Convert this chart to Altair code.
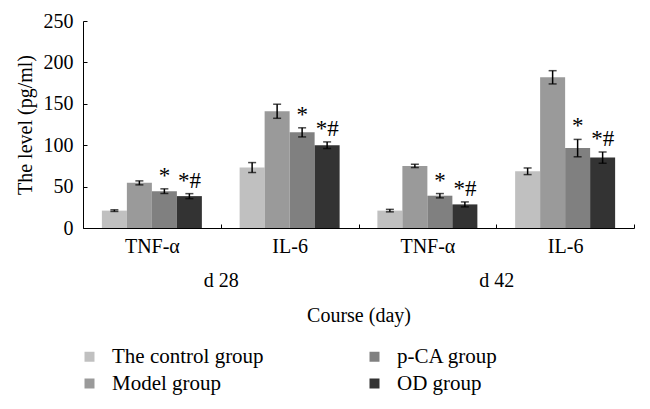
import altair as alt
import pandas as pd

cytokines = ["TNF-α", "IL-6", "TNF-α", "IL-6"]
days = ["d 28", "d 28", "d 42", "d 42"]
groups = ["The control group", "Model group", "p-CA group", "OD group"]
colors = ["#c0c0c0", "#9a9a9a", "#808080", "#333333"]

control = [21, 73, 21, 68.5]
control_err = [1, 6, 1.5, 4]
model = [54.5, 141, 75, 182]
model_err = [2.4, 8.5, 2, 8]
pca = [44.5, 115.5, 39, 96.5]
pca_err = [2.8, 5.5, 2.6, 10.5]
od = [38.5, 100, 28.5, 85]
od_err = [3, 4, 3, 6.8]
signif = ["", "", "*", "*#"]

y_ticks = [0, 50, 100, 150, 200, 250]
FONT = "Liberation Serif"
H = 207

values = [control, model, pca, od]
errors = [control_err, model_err, pca_err, od_err]
rows = []
for gi, g in enumerate(groups):
    for ci in range(4):
        v = values[gi][ci]
        e = errors[gi][ci]
        rows.append({
            "cat": days[ci] + "|" + cytokines[ci],
            "day": days[ci],
            "group": g,
            "value": v,
            "lo": v - e,
            "hi": v + e,
            "mark": signif[gi],
        })
df = pd.DataFrame(rows)
cat_order = [days[i] + "|" + cytokines[i] for i in range(4)]

x_scale = alt.Scale(paddingInner=0, paddingOuter=0)
x_enc = alt.X(
    "cat:N", sort=cat_order, scale=x_scale,
    axis=alt.Axis(
        title=None, labelExpr="split(datum.label, '|')[1]", labelAngle=0,
        labelFontSize=20, labelFont=FONT, labelColor="black", labelPadding=8,
        ticks=False, domainColor="black", domainWidth=1,
        tickBand="extent", grid=True, gridColor="black", gridWidth=1,
        gridDash=[0, H - 4, 4, 1000], gridOpacity=1,
    ),
)
xo_enc = alt.XOffset("group:N", sort=groups, scale=alt.Scale(paddingInner=0, paddingOuter=0.755))
y_axis = alt.Axis(
    title="The level (pg/ml)", titleFontSize=20, titleFont=FONT, titleFontWeight="normal",
    titleColor="black", titlePadding=8, values=y_ticks,
    labelFontSize=20, labelFont=FONT, labelColor="black", labelPadding=10,
    ticks=False, domainColor="black", domainWidth=1,
    grid=True, gridColor="black", gridWidth=1, gridDash=[4, 1000], gridOpacity=1,
)

base = alt.Chart(df)
bars = base.mark_bar().encode(
    x=x_enc, xOffset=xo_enc,
    y=alt.Y("value:Q", scale=alt.Scale(domain=[0, 250], nice=False), axis=y_axis),
    color=alt.Color(
        "group:N", sort=groups,
        scale=alt.Scale(domain=groups, range=colors),
        legend=alt.Legend(
            title=None, orient="none", legendX=-4, legendY=325, columns=2,
            symbolType="square", symbolSize=100,
            symbolStrokeWidth=0, labelFont=FONT, labelFontSize=21,
            labelColor="black", labelOffset=12, columnPadding=100, rowPadding=5,
        ),
    ),
)
xs = alt.X("cat:N", sort=cat_order, scale=x_scale)
err = base.mark_rule(color="black", strokeWidth=1.5).encode(
    x=xs, xOffset=xo_enc, y="lo:Q", y2="hi:Q"
)
cap_hi = base.mark_tick(color="black", size=8, thickness=1.5, orient="horizontal").encode(
    x=xs, xOffset=xo_enc, y="hi:Q"
)
cap_lo = base.mark_tick(color="black", size=8, thickness=1.5, orient="horizontal").encode(
    x=xs, xOffset=xo_enc, y="lo:Q"
)
stars = base.mark_text(baseline="bottom", dy=-1, font=FONT, fontSize=23, color="black").encode(
    x=xs, xOffset=xo_enc, y="hi:Q", text="mark:N"
)

main = alt.layer(bars, err, cap_hi, cap_lo, stars)

day_layer = alt.Chart(pd.DataFrame({"day": ["d 28", "d 42"]})).mark_point(opacity=0).encode(
    x=alt.X(
        "day:N", sort=["d 28", "d 42"],
        scale=alt.Scale(paddingInner=0, paddingOuter=0),
        axis=alt.Axis(
            orient="bottom", offset=40, domain=False, ticks=False, grid=False,
            labelAngle=0, labelFontSize=20, labelFont=FONT, labelColor="black",
            labelPadding=2,
            title="Course (day)", titleFontSize=20, titleFont=FONT,
            titleFontWeight="normal", titleColor="black", titlePadding=15,
        ),
    )
)

chart = alt.layer(main, day_layer).resolve_scale(x="independent").properties(
    width=551, height=H,
    padding={"left": 7, "top": 3, "right": 5, "bottom": 5},
).configure_view(stroke=None)

chart.save("out.html", embed_options={"renderer": "svg", "actions": False})
